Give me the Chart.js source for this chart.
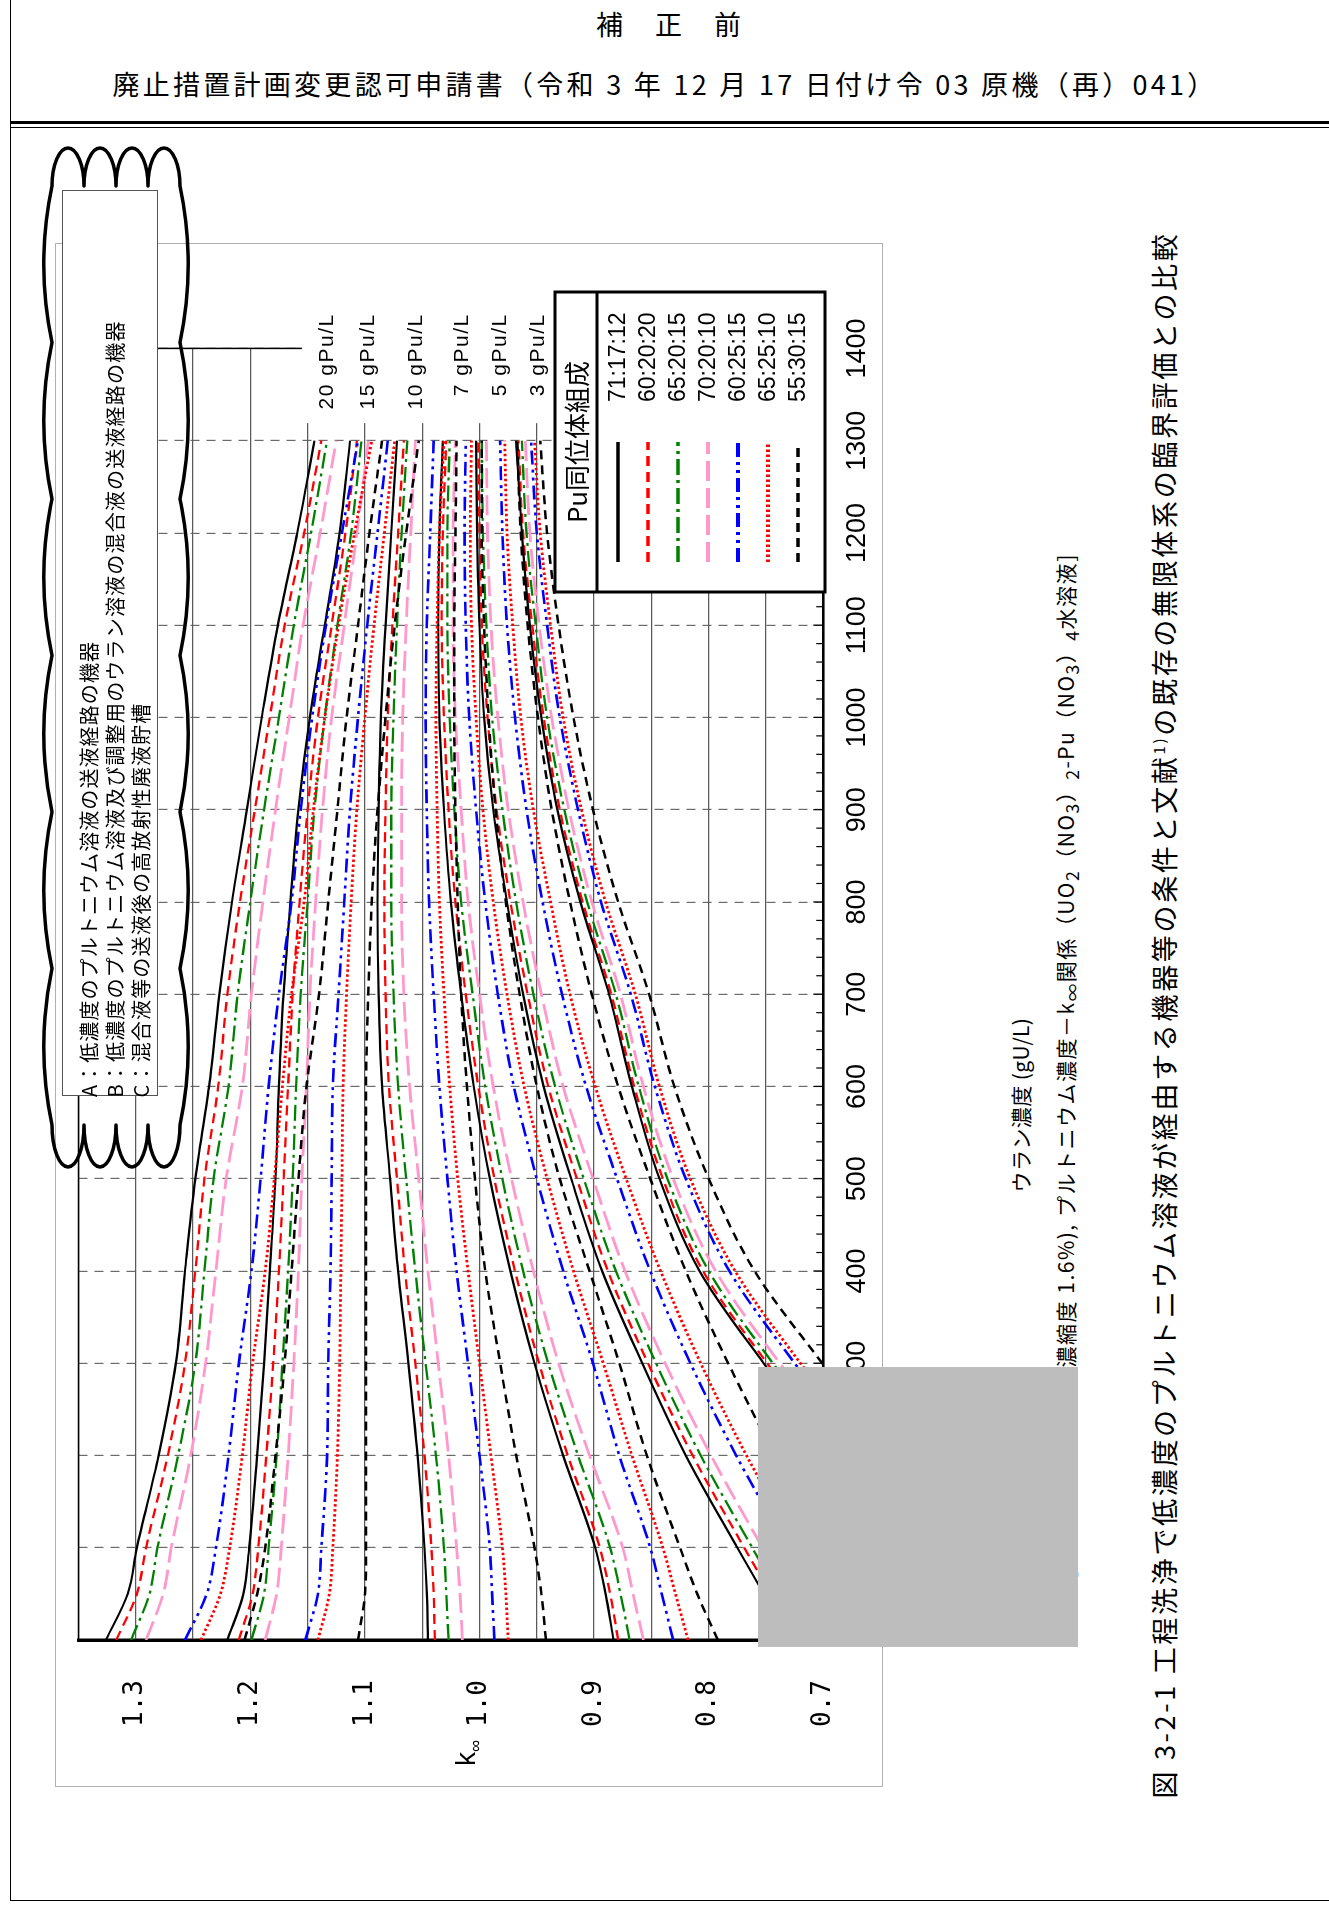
<!DOCTYPE html>
<html><head><meta charset="utf-8">
<script src="https://cdn.jsdelivr.net/npm/chart.js@4.4.1/dist/chart.umd.min.js"></script>
<style>
body{margin:0;background:#fff;}
#page{position:relative;width:1329px;height:1905px;overflow:hidden;background:#fff;font-family:"Noto Sans CJK JP","Noto Sans",sans-serif;color:#000;}
.abs{position:absolute;}
.rot{position:absolute;white-space:nowrap;transform:translate(-50%,-50%) rotate(-90deg);line-height:1;}
.hz{position:absolute;white-space:nowrap;transform:translate(-50%,-50%);line-height:1;}
</style></head><body>
<div id="page">
  <div class="abs" style="left:10px;top:-2px;width:1318px;height:1902px;border-left:1.5px solid #000;border-right:1.5px solid #000;border-bottom:1.5px solid #000;"></div>
  <div id="h1" class="hz" style="font-size:27px;">補 正 前</div>
  <div id="h2" class="hz" style="font-size:27px;">廃止措置計画変更認可申請書（令和 3 年 12 月 17 日付け令 03 原機（再）041）</div>
  <div class="abs" style="left:10px;width:1319px;top:121px;height:3px;background:#000;"></div>
  <div class="abs" style="left:10px;width:1319px;top:127px;height:1px;background:#000;"></div>

  <div class="abs" style="left:55px;top:243px;width:828px;height:1544px;border:1px solid #b0b0b0;box-sizing:border-box;"></div>
  <div id="chartWrap" class="abs" style="left:55px;top:1787px;width:1544px;height:828px;transform-origin:0 0;transform:rotate(-90deg);">
    <canvas id="c" width="1544" height="828" style="width:1544px;height:828px;"></canvas>
  </div>

  <div id="kinf" class="rot" style="font-family:'Liberation Sans',sans-serif;font-size:28px;">k<sub style="font-size:17px;">∞</sub></div>
  <div id="xt" class="rot" style="font-size:21px;">ウラン濃度 (gU/L)</div>
  <div id="sub" class="rot" style="font-size:21px;"><span id="subPre">[ウラン濃度（ウラン</span><span id="subMain">濃縮度 1.6%), プルトニウム濃度－k<sub>∞</sub>関係（UO<sub>2</sub>（NO<sub>3</sub>）<sub>2</sub>-Pu（NO<sub>3</sub>）<sub>4</sub>水溶液]</span></div>
  <div id="cap" class="rot" style="font-size:27px;">図 3-2-1 工程洗浄で低濃度のプルトニウム溶液が経由する機器等の条件と文献<sup style="font-size:15px;">1)</sup>の既存の無限体系の臨界評価との比較</div>

  <svg class="abs" style="left:0;top:0;" width="1329" height="1905">
    <path id="cloud" fill="none" stroke="#000" stroke-width="3.5" stroke-linejoin="round"/>
  </svg>
  <div class="abs" style="left:62px;top:190px;width:96px;height:906px;background:#fff;border:1px solid #555;box-sizing:border-box;"></div>
  <div id="tA" class="rot" style="font-size:20px;">A：低濃度のプルトニウム溶液の送液経路の機器</div>
  <div id="tB" class="rot" style="font-size:20px;">B：低濃度のプルトニウム溶液及び調整用のウラン溶液の混合液の送液経路の機器</div>
  <div id="tC" class="rot" style="font-size:20px;">C：混合液等の送液後の高放射性廃液貯槽</div>

  <div class="abs" style="left:758px;top:1367px;width:320px;height:280px;background:#bdbdbd;"></div>
</div>
<script>
// ---------------- DATA ----------------
const uConc = [0, 50, 100, 200, 300, 400, 500, 600, 700, 800, 900, 1000, 1100, 1200, 1300];
const compositions = ['71:17:12', '60:20:20', '65:20:15', '70:20:10', '60:25:15', '65:25:10', '55:30:15'];
const puGroups = ['20 gPu/L', '15 gPu/L', '10 gPu/L', '7 gPu/L', '5 gPu/L', '3 gPu/L'];
const puLabelK = [1.133, 1.097, 1.055, 1.015, 0.982, 0.949];
const kTicks = [0.7, 0.8, 0.9, 1.0, 1.1, 1.2, 1.3];
const uTicks = [0, 100, 200, 300, 400, 500, 600, 700, 800, 900, 1000, 1100, 1200, 1300, 1400];

// 20 gPu/L
const k20_711712 = [1.326,1.307,1.299,1.280,1.265,1.257,1.248,1.236,1.227,1.216,1.203,1.190,1.176,1.159,1.144];
const k20_602020 = [1.317,1.299,1.291,1.272,1.257,1.248,1.240,1.228,1.220,1.209,1.196,1.183,1.170,1.153,1.138];
const k20_652015 = [1.304,1.288,1.281,1.263,1.248,1.240,1.232,1.219,1.211,1.200,1.188,1.175,1.162,1.147,1.133];
const k20_702010 = [1.291,1.276,1.269,1.252,1.239,1.230,1.221,1.207,1.199,1.189,1.178,1.166,1.154,1.139,1.125];
const k20_602515 = [1.257,1.238,1.230,1.219,1.210,1.199,1.191,1.184,1.175,1.164,1.156,1.146,1.134,1.120,1.106];
const k20_652510 = [1.243,1.226,1.218,1.207,1.198,1.187,1.179,1.172,1.164,1.153,1.145,1.135,1.123,1.109,1.094];
const k20_553015 = [1.205,1.194,1.187,1.178,1.170,1.164,1.158,1.151,1.140,1.132,1.124,1.116,1.106,1.096,1.085];
// 15 gPu/L
const k15_711712 = [1.220,1.206,1.201,1.194,1.188,1.183,1.178,1.175,1.171,1.165,1.158,1.148,1.135,1.122,1.113];
const k15_602020 = [1.210,1.198,1.193,1.186,1.180,1.175,1.171,1.167,1.163,1.157,1.150,1.141,1.129,1.117,1.107];
const k15_652015 = [1.199,1.188,1.184,1.177,1.172,1.167,1.163,1.160,1.156,1.150,1.144,1.135,1.124,1.112,1.103];
const k15_702010 = [1.187,1.177,1.173,1.167,1.162,1.158,1.155,1.151,1.148,1.143,1.137,1.129,1.118,1.107,1.097];
const k15_602515 = [1.152,1.141,1.138,1.133,1.132,1.130,1.129,1.128,1.123,1.118,1.113,1.106,1.098,1.089,1.080];
const k15_652510 = [1.141,1.131,1.128,1.124,1.122,1.121,1.120,1.119,1.116,1.112,1.107,1.100,1.092,1.083,1.074];
const k15_553015 = [1.106,1.100,1.099,1.099,1.099,1.099,1.099,1.099,1.097,1.094,1.089,1.082,1.074,1.064,1.053];
// 10 gPu/L
const k10_711712 = [1.045,1.046,1.048,1.054,1.062,1.071,1.078,1.085,1.088,1.089,1.088,1.086,1.082,1.077,1.072];
const k10_602020 = [1.039,1.040,1.042,1.048,1.056,1.065,1.072,1.079,1.082,1.083,1.082,1.080,1.076,1.071,1.066];
const k10_652015 = [1.027,1.029,1.031,1.038,1.047,1.056,1.064,1.071,1.075,1.077,1.077,1.075,1.072,1.068,1.063];
const k10_702010 = [1.015,1.017,1.020,1.027,1.036,1.045,1.053,1.061,1.066,1.068,1.068,1.067,1.064,1.060,1.056];
const k10_602515 = [0.987,0.989,0.991,1.000,1.010,1.020,1.028,1.035,1.040,1.044,1.046,1.047,1.046,1.043,1.040];
const k10_652510 = [0.975,0.977,0.980,0.990,1.000,1.010,1.019,1.026,1.031,1.035,1.037,1.038,1.037,1.035,1.031];
const k10_553015 = [0.942,0.946,0.952,0.968,0.982,0.995,1.004,1.011,1.016,1.019,1.021,1.022,1.022,1.021,1.020];
// 7 gPu/L
const k7_711712 = [0.883,0.890,0.899,0.927,0.952,0.973,0.991,1.005,1.016,1.025,1.031,1.035,1.036,1.035,1.032];
const k7_602020 = [0.879,0.886,0.895,0.923,0.948,0.969,0.987,1.001,1.012,1.021,1.027,1.031,1.033,1.032,1.029];
const k7_652015 = [0.869,0.877,0.886,0.914,0.940,0.962,0.980,0.995,1.006,1.016,1.022,1.026,1.028,1.028,1.026];
const k7_702010 = [0.857,0.866,0.875,0.904,0.931,0.953,0.972,0.988,1.000,1.010,1.016,1.021,1.023,1.023,1.021];
const k7_602515 = [0.831,0.841,0.851,0.878,0.901,0.927,0.950,0.970,0.984,0.995,1.003,1.009,1.012,1.013,1.012];
const k7_652510 = [0.818,0.829,0.840,0.867,0.892,0.918,0.941,0.961,0.976,0.988,0.997,1.003,1.007,1.008,1.007];
const k7_553015 = [0.792,0.810,0.825,0.854,0.878,0.904,0.930,0.950,0.965,0.977,0.986,0.992,0.996,0.998,0.998];
// 5 gPu/L
const k5_711712 = [0.730,0.752,0.775,0.820,0.858,0.893,0.920,0.944,0.962,0.976,0.988,0.996,1.000,1.002,1.003];
const k5_602020 = [0.724,0.746,0.769,0.814,0.853,0.888,0.915,0.940,0.958,0.973,0.985,0.993,0.998,1.000,1.001];
const k5_652015 = [0.716,0.739,0.762,0.807,0.846,0.881,0.909,0.934,0.953,0.968,0.980,0.989,0.994,0.997,0.998];
const k5_702010 = [0.707,0.730,0.753,0.798,0.838,0.873,0.901,0.927,0.946,0.962,0.975,0.984,0.990,0.993,0.994];
const k5_602515 = [0.685,0.708,0.731,0.776,0.816,0.851,0.880,0.907,0.928,0.945,0.959,0.969,0.976,0.980,0.982];
const k5_652510 = [0.676,0.699,0.722,0.767,0.807,0.842,0.872,0.899,0.921,0.938,0.953,0.964,0.971,0.976,0.978];
const k5_553015 = [0.650,0.673,0.696,0.742,0.783,0.820,0.851,0.879,0.902,0.921,0.937,0.949,0.958,0.964,0.967];
// 3 gPu/L
const k3_711712 = [0.570,0.600,0.630,0.690,0.752,0.808,0.843,0.867,0.887,0.912,0.932,0.946,0.956,0.963,0.968];
const k3_602020 = [0.567,0.597,0.627,0.687,0.749,0.805,0.840,0.865,0.885,0.910,0.930,0.944,0.954,0.962,0.966];
const k3_652015 = [0.562,0.592,0.622,0.682,0.744,0.800,0.836,0.861,0.881,0.906,0.926,0.941,0.951,0.959,0.963];
const k3_702010 = [0.556,0.586,0.616,0.676,0.738,0.794,0.831,0.857,0.877,0.902,0.922,0.937,0.948,0.956,0.960];
const k3_602515 = [0.543,0.573,0.603,0.663,0.725,0.782,0.820,0.847,0.868,0.894,0.914,0.930,0.941,0.950,0.955];
const k3_652510 = [0.538,0.568,0.598,0.658,0.720,0.777,0.816,0.843,0.864,0.890,0.911,0.927,0.938,0.947,0.952];
const k3_553015 = [0.520,0.550,0.580,0.640,0.701,0.760,0.800,0.830,0.852,0.879,0.901,0.918,0.931,0.941,0.947];

const groupSeries = [
  [k20_711712,k20_602020,k20_652015,k20_702010,k20_602515,k20_652510,k20_553015],
  [k15_711712,k15_602020,k15_652015,k15_702010,k15_602515,k15_652510,k15_553015],
  [k10_711712,k10_602020,k10_652015,k10_702010,k10_602515,k10_652510,k10_553015],
  [k7_711712,k7_602020,k7_652015,k7_702010,k7_602515,k7_652510,k7_553015],
  [k5_711712,k5_602020,k5_652015,k5_702010,k5_602515,k5_652510,k5_553015],
  [k3_711712,k3_602020,k3_652015,k3_702010,k3_602515,k3_652510,k3_553015]
];

// ---------------- STYLES ----------------
const lineStyles = [
  {color:'#000000', width:2.2, dash:[]},
  {color:'#ff0000', width:2.3, dash:[10,6]},
  {color:'#008000', width:2.3, dash:[16,5,3,5]},
  {color:'#ff99cc', width:2.8, dash:[20,7]},
  {color:'#0000ff', width:2.6, dash:[14,5,3,5,3,5]},
  {color:'#ff0000', width:2.8, dash:[2.5,2.5]},
  {color:'#000000', width:2.5, dash:[9,6]}
];

const datasets = [];
groupSeries.forEach((grp, gi) => {
  grp.forEach((vals, ci) => {
    const st = lineStyles[ci];
    datasets.push({
      label: puGroups[gi] + ' ' + compositions[ci],
      data: uConc.map((u, i) => ({x: u, y: vals[i]})),
      borderColor: st.color, borderWidth: st.width, borderDash: st.dash,
      pointRadius: 0, fill: false, cubicInterpolationMode: 'monotone'
    });
  });
});

Chart.defaults.font.family = "'Liberation Sans', Arial, sans-serif";
Chart.defaults.color = '#000';

const overlay = {
  id: 'overlay',
  afterDatasetsDraw(chart) {
    const ctx = chart.ctx, xs = chart.scales.x, ys = chart.scales.y, a = chart.chartArea;
    ctx.save();
    ctx.strokeStyle = '#000'; ctx.lineWidth = 1.5; ctx.setLineDash([]);
    const xTop = xs.getPixelForValue(1400);
    ctx.beginPath(); ctx.moveTo(xTop, a.top); ctx.lineTo(xTop, a.bottom); ctx.stroke();
    ctx.beginPath(); ctx.moveTo(a.left, a.top); ctx.lineTo(xTop, a.top); ctx.stroke();
    ctx.lineWidth = 1.2;
    for (let u = 20; u < 1400; u += 20) {
      const px = xs.getPixelForValue(u);
      const len = (u % 100 === 0) ? 10 : 7;
      ctx.beginPath(); ctx.moveTo(px, a.bottom); ctx.lineTo(px, a.bottom - len); ctx.stroke();
    }
    const lx0 = xs.getPixelForValue(1319), lx1 = xs.getPixelForValue(1465);
    const ly0 = ys.getPixelForValue(1.155), ly1 = ys.getPixelForValue(0.934);
    ctx.fillStyle = '#fff'; ctx.fillRect(lx0, ly0, lx1 - lx0, ly1 - ly0);
    ctx.fillStyle = '#000'; ctx.font = "21px 'Liberation Sans', Arial, sans-serif";
    ctx.textAlign = 'right'; ctx.textBaseline = 'middle';
    try { ctx.letterSpacing = '1.5px'; } catch(e) {}
    puGroups.forEach((t, i) => ctx.fillText(t, xs.getPixelForValue(1438), ys.getPixelForValue(puLabelK[i])));
    try { ctx.letterSpacing = '0px'; } catch(e) {}
    const bx0 = 1195, bx1 = 1495, by0 = 500, by1 = 770, sep = 542;
    ctx.fillStyle = '#fff'; ctx.fillRect(bx0, by0, bx1 - bx0, by1 - by0);
    ctx.strokeStyle = '#000'; ctx.lineWidth = 3; ctx.strokeRect(bx0, by0, bx1 - bx0, by1 - by0);
    ctx.beginPath(); ctx.moveTo(bx0, sep); ctx.lineTo(bx1, sep); ctx.stroke();
    ctx.fillStyle = '#000'; ctx.textAlign = 'center'; ctx.textBaseline = 'middle';
    ctx.font = "26px 'Noto Sans CJK JP', sans-serif";
    ctx.fillText('Pu同位体組成', (bx0 + bx1) / 2, 522);
    ctx.font = "23px 'Liberation Sans', Arial, sans-serif"; ctx.textAlign = 'left';
    compositions.forEach((c, i) => {
      const yy = 563 + i * 30;
      const st = lineStyles[i];
      ctx.strokeStyle = st.color; ctx.lineWidth = st.width + 1.2; ctx.setLineDash(st.dash);
      ctx.beginPath(); ctx.moveTo(1225, yy); ctx.lineTo(1345, yy); ctx.stroke();
      ctx.setLineDash([]);
      ctx.fillText(c, 1385, yy + 1);
    });
    ctx.restore();
  }
};

new Chart(document.getElementById('c'), {
  type: 'line',
  data: { datasets },
  options: {
    responsive: false, animation: false, devicePixelRatio: 1,
    layout: { padding: { top: 23.4, right: 105.4, left: 0, bottom: 0 } },
    plugins: { legend: { display: false }, tooltip: { enabled: false } },
    scales: {
      x: {
        type: 'linear', min: 0, max: 1400,
        afterFit: s => { s.height = 59.7; s.paddingLeft = 0; s.paddingRight = 0; },
        afterBuildTicks: s => { s.ticks = uTicks.map(v => ({value: v})); },
        ticks: { autoSkip: false, maxRotation: 0, padding: 18, font: { size: 27 }, color: '#000', callback: v => String(v) },
        grid: { color: '#6a6a6a', lineWidth: 1.2, drawTicks: false },
        border: { display: true, color: '#000', width: 2.5, dash: [9, 7] }
      },
      y: {
        type: 'linear', min: 0.7, max: 1.35,
        afterFit: s => { s.width = 147; s.paddingTop = 0; s.paddingBottom = 0; },
        afterBuildTicks: s => { const t = []; for (let i = 0; i <= 13; i++) t.push({value: +(0.7 + i * 0.05).toFixed(2)}); s.ticks = t; },
        ticks: {
          autoSkip: false, padding: 40, font: { size: 26, family: "'DejaVu Sans Mono', monospace" }, color: '#000',
          callback: v => { const r = Math.round(v * 100); return (r % 10 === 0 && kTicks.includes(r / 100)) ? (r / 100).toFixed(1) : ''; }
        },
        grid: { color: '#5a5a5a', lineWidth: 1.3, drawTicks: false },
        border: { display: true, color: '#000', width: 3.5 }
      }
    }
  },
  plugins: [overlay]
});

// ---------------- TEXT PLACEMENT ----------------
function fit(el, len) {
  if (len) {
    const w = el.offsetWidth; const n = [...el.textContent].length;
    el.style.letterSpacing = ((len - w) / n) + 'px';
  }
}
function at(id, cx, cy, len) { const el = document.getElementById(id); fit(el, len); el.style.left = cx + 'px'; el.style.top = cy + 'px'; return el; }
at('h1', 675, 23, 158);
at('h2', 665, 83, 1105);
at('kinf', 468, 1753);
at('xt', 1020, 1105, 175);
(function(){
  const el = document.getElementById('sub'), main = document.getElementById('subMain');
  const wm = main.offsetWidth, nm = [...main.textContent].length;
  const ls = (814 - wm) / nm;
  el.style.letterSpacing = ls + 'px';
  const w = el.offsetWidth;
  el.style.left = '1068px'; el.style.top = (553 + w / 2) + 'px';
})();
at('cap', 1163, 1015, 1567);
function bottomStart(id, cx, yStart, len) { const el = document.getElementById(id); fit(el, len); const w = el.offsetWidth; el.style.left = cx + 'px'; el.style.top = (yStart - w / 2) + 'px'; }
bottomStart('tA', 89, 1097, 456);
bottomStart('tB', 115, 1097, 777);
bottomStart('tC', 141, 1097, 395);

(function(){
  const L = 52, R = 180, T = 186, B = 1125;
  let d = `M ${L} ${T}`;
  const nt = 4, ns = 6; const bw = (R - L) / nt, bh = (B - T) / ns;
  for (let i = 1; i <= nt; i++) d += ` A ${bw/2} 38 0 0 1 ${L + i * bw} ${T}`;
  for (let i = 1; i <= ns; i++) d += ` A 380 380 0 0 1 ${R} ${T + i * bh}`;
  for (let i = 1; i <= nt; i++) d += ` A ${bw/2} 42 0 0 1 ${R - i * bw} ${B}`;
  for (let i = 1; i <= ns; i++) d += ` A 380 380 0 0 1 ${L} ${B - i * bh}`;
  document.getElementById('cloud').setAttribute('d', d + ' Z');
})();
</script>
</body></html>
